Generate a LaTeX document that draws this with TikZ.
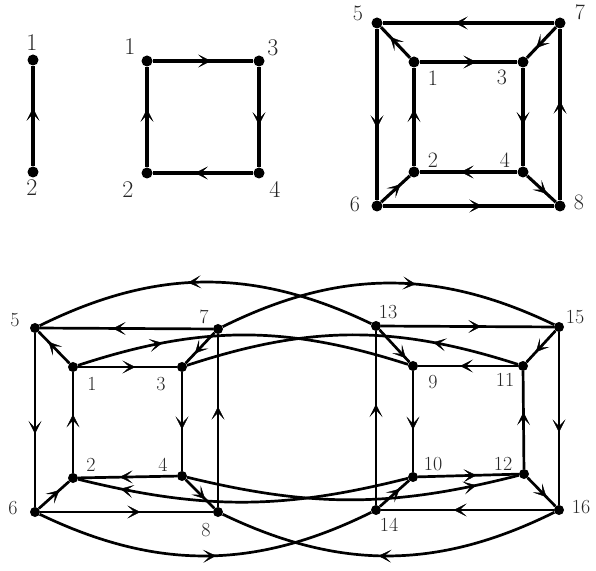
\documentclass[tikz,border=0pt]{standalone}
\usetikzlibrary{arrows.meta,decorations.markings}
\tikzset{
  dot/.style={circle,fill=black,inner sep=0pt,minimum size=11pt},
  sdot/.style={circle,fill=black,inner sep=0pt,minimum size=10pt},
  lab/.style={text=black!85,inner sep=0pt,font=\fontsize{24}{28}\selectfont},
  labm/.style={text=black!85,inner sep=0pt,font=\fontsize{22}{26}\selectfont},
  labs/.style={text=black!85,inner sep=0pt,font=\fontsize{20}{24}\selectfont},
  ar/.style={postaction={decorate,decoration={markings,mark=at position #1 with {\arrow{Stealth[length=13pt,width=13pt,inset=7pt,line width=0.4pt]}}}}},
  ar/.default=0.58,
  ed/.style={line width=3.1pt},
  eds/.style={line width=2.7pt}
}
\begin{document}
\begin{tikzpicture}[x=1pt,y=1pt]
\useasboundingbox (0,0) rectangle (596,570);
% top-left single edge
\node[dot] (a1) at (33,510) {};
\node[dot] (a2) at (33,398) {};
\node[lab] (la1) at (32,527) {1};
\node[lab] (la2) at (32,382) {2};
\draw[ed,ar] (a2) -- (a1);
% square
\node[dot] (b1) at (147,509) {};
\node[dot] (b3) at (259,509) {};
\node[dot] (b2) at (147,397) {};
\node[dot] (b4) at (259,397) {};
\node[lab] (lb1) at (130,523) {1};
\node[lab] (lb3) at (273,522) {3};
\node[lab] (lb2) at (128,380) {2};
\node[lab] (lb4) at (275,381) {4};
\draw[ed,ar] (b1) -- (b3);
\draw[ed,ar] (b3) -- (b4);
\draw[ed,ar] (b4) -- (b2);
\draw[ed,ar] (b2) -- (b1);
% top-right cube
\node[dot] (c5) at (377,547) {};
\node[dot] (c7) at (560,547) {};
\node[dot] (c1) at (414,508) {};
\node[dot] (c3) at (523,508) {};
\node[dot] (c2) at (414,398) {};
\node[dot] (c4) at (523,398) {};
\node[dot] (c6) at (377,364) {};
\node[dot] (c8) at (560,364) {};
\node[labm] (lc5) at (358,557) {5};
\node[labm] (lc7) at (580,558) {7};
\node[labm] (lc1) at (433,492) {1};
\node[labm] (lc3) at (502,493) {3};
\node[labm] (lc2) at (433,410) {2};
\node[labm] (lc4) at (505,410) {4};
\node[labm] (lc6) at (355,366) {6};
\node[labm] (lc8) at (579,368) {8};
\draw[ed,ar] (c7) -- (c5);
\draw[ed,ar=0.68] (c1) -- (c5);
\draw[ed,ar] (c1) -- (c3);
\draw[ed,ar=0.68] (c7) -- (c3);
\draw[ed,ar] (c5) -- (c6);
\draw[ed,ar] (c3) -- (c4);
\draw[ed,ar] (c2) -- (c1);
\draw[ed,ar] (c4) -- (c2);
\draw[ed,ar] (c8) -- (c7);
\draw[ed,ar=0.68] (c6) -- (c2);
\draw[ed,ar=0.68] (c4) -- (c8);
\draw[ed,ar] (c6) -- (c8);
% bottom left cube
\node[sdot] (d5) at (35,242) {};
\node[sdot] (d7) at (218,241) {};
\node[sdot] (d1) at (73,203) {};
\node[sdot] (d3) at (182,203) {};
\node[sdot] (d2) at (73,92) {};
\node[sdot] (d4) at (182,94) {};
\node[sdot] (d6) at (35,58) {};
\node[sdot] (d8) at (218,58) {};
\node[labs] (ld5) at (15,250) {5};
\node[labs] (ld7) at (204,253) {7};
\node[labs] (ld1) at (92,186) {1};
\node[labs] (ld3) at (161,186) {3};
\node[labs] (ld2) at (91,105) {2};
\node[labs] (ld4) at (163,105) {4};
\node[labs] (ld6) at (13,62) {6};
\node[labs] (ld8) at (206,40) {8};
\draw[eds,ar] (d7) -- (d5);
\draw[eds,ar=0.68] (d1) -- (d5);
\draw[eds,ar] (d1) -- (d3);
\draw[eds,ar=0.68] (d7) -- (d3);
\draw[eds,ar] (d5) -- (d6);
\draw[eds,ar] (d3) -- (d4);
\draw[eds,ar] (d2) -- (d1);
\draw[eds,ar] (d4) -- (d2);
\draw[eds,ar] (d8) -- (d7);
\draw[eds,ar=0.68] (d6) -- (d2);
\draw[eds,ar=0.68] (d4) -- (d8);
\draw[eds,ar] (d6) -- (d8);
% bottom right cube
\node[sdot] (e13) at (376,244) {};
\node[sdot] (e15) at (559,243) {};
\node[sdot] (e9) at (413,204) {};
\node[sdot] (e11) at (523,204) {};
\node[sdot] (e10) at (413,93) {};
\node[sdot] (e12) at (524,96) {};
\node[sdot] (e14) at (376,60) {};
\node[sdot] (e16) at (559,60) {};
\node[labs] (le13) at (388,258) {13};
\node[labs] (le15) at (575,253) {15};
\node[labs] (le9) at (433,188) {9};
\node[labs] (le11) at (505,190) {11};
\node[labs] (le10) at (433,106) {10};
\node[labs] (le12) at (503,106) {12};
\node[labs] (le14) at (389,45) {14};
\node[labs] (le16) at (581,63) {16};
\draw[eds,ar] (e13) -- (e15);
\draw[eds,ar=0.88] (e13) -- (e9);
\draw[eds,ar] (e11) -- (e9);
\draw[eds,ar=0.68] (e15) -- (e11);
\draw[eds,ar] (e9) -- (e10);
\draw[eds,ar] (e12) -- (e11);
\draw[eds,ar] (e10) -- (e12);
\draw[eds,ar=0.68] (e12) -- (e16);
\draw[eds,ar] (e14) -- (e13);
\draw[eds,ar] (e15) -- (e16);
\draw[eds,ar] (e16) -- (e14);
\draw[eds,ar=0.68] (e14) -- (e10);
% connecting arcs
\draw[eds,ar=0.55] (e13) to[bend right=26] (d5);
\draw[eds,ar=0.58] (d7) to[bend left=26] (e15);
\draw[eds,ar=0.26] (d1) to[bend left=18] (e9);
\draw[eds,ar=0.26] (e11) to[bend right=18] (d3);
\draw[eds,ar=0.87] (e10) to[bend left=14] (d2);
\draw[eds,ar=0.87] (d4) to[bend right=14] (e12);
\draw[eds,ar=0.53] (d6) to[bend right=26] (e14);
\draw[eds,ar=0.53] (e16) to[bend left=26] (d8);
\end{tikzpicture}
\end{document}
